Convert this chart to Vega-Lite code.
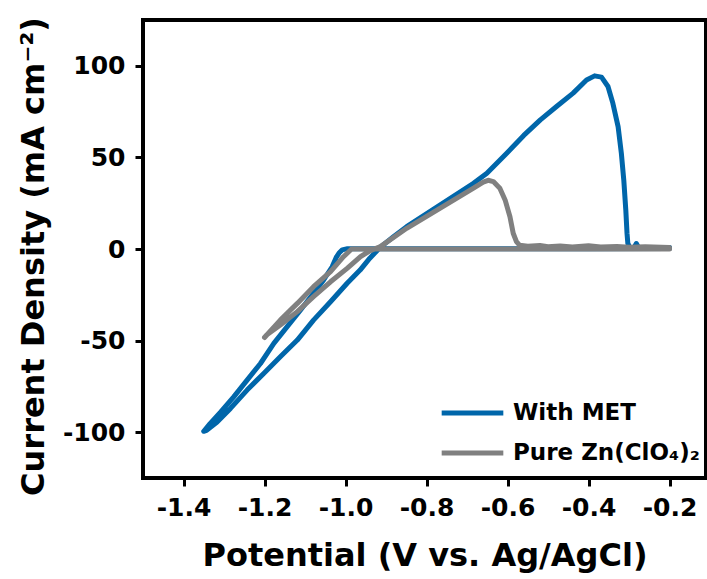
{
  "$schema": "https://vega.github.io/schema/vega-lite/v6.json",
  "width": 563,
  "height": 458,
  "autosize": "none",
  "padding": {"left": 143, "top": 20, "right": 1, "bottom": 101},
  "background": "white",
  "config": {
    "view": {"stroke": "black", "strokeWidth": 4},
    "font": "DejaVu Sans",
    "axis": {
      "grid": false,
      "domain": false,
      "tickColor": "black",
      "tickWidth": 3,
      "tickSize": 8,
      "labelFont": "DejaVu Sans",
      "labelFontWeight": "bold",
      "labelFontSize": 25,
      "labelColor": "black",
      "titleFont": "DejaVu Sans",
      "titleFontWeight": "bold",
      "titleFontSize": 32,
      "titleColor": "black"
    },
    "legend": {
      "orient": "none",
      "legendX": 296,
      "legendY": 377,
      "title": null,
      "symbolType": "stroke",
      "symbolSize": 3800,
      "symbolStrokeWidth": 5,
      "labelFont": "DejaVu Sans",
      "labelFontWeight": "bold",
      "labelFontSize": 23,
      "labelColor": "black",
      "labelOffset": 7,
      "clipHeight": 32,
      "rowPadding": 8,
      "labelLimit": 300
    }
  },
  "datasets": {
    "cv": [
      {"s": "With MET", "i": 1, "v": -0.2, "j": 0.3},
      {"s": "With MET", "i": 2, "v": -0.4, "j": 0.2},
      {"s": "With MET", "i": 3, "v": -0.6, "j": 0.1},
      {"s": "With MET", "i": 4, "v": -0.8, "j": 0.1},
      {"s": "With MET", "i": 5, "v": -0.95, "j": 0.2},
      {"s": "With MET", "i": 6, "v": -0.995, "j": 0.2},
      {"s": "With MET", "i": 7, "v": -1.008, "j": -0.5},
      {"s": "With MET", "i": 8, "v": -1.016, "j": -2.2},
      {"s": "With MET", "i": 9, "v": -1.023, "j": -4.6},
      {"s": "With MET", "i": 10, "v": -1.033, "j": -9.7},
      {"s": "With MET", "i": 11, "v": -1.054, "j": -16.9},
      {"s": "With MET", "i": 12, "v": -1.079, "j": -24.2},
      {"s": "With MET", "i": 13, "v": -1.111, "j": -33.3},
      {"s": "With MET", "i": 14, "v": -1.144, "j": -42.4},
      {"s": "With MET", "i": 15, "v": -1.177, "j": -51.5},
      {"s": "With MET", "i": 16, "v": -1.21, "j": -62.5},
      {"s": "With MET", "i": 17, "v": -1.243, "j": -71.6},
      {"s": "With MET", "i": 18, "v": -1.276, "j": -80.7},
      {"s": "With MET", "i": 19, "v": -1.308, "j": -88.9},
      {"s": "With MET", "i": 20, "v": -1.335, "j": -95.5},
      {"s": "With MET", "i": 21, "v": -1.35, "j": -99.5},
      {"s": "With MET", "i": 22, "v": -1.343, "j": -99.0},
      {"s": "With MET", "i": 23, "v": -1.317, "j": -94.4},
      {"s": "With MET", "i": 24, "v": -1.284, "j": -87.0},
      {"s": "With MET", "i": 25, "v": -1.243, "j": -77.0},
      {"s": "With MET", "i": 26, "v": -1.202, "j": -67.9},
      {"s": "With MET", "i": 27, "v": -1.161, "j": -58.8},
      {"s": "With MET", "i": 28, "v": -1.119, "j": -49.7},
      {"s": "With MET", "i": 29, "v": -1.079, "j": -38.8},
      {"s": "With MET", "i": 30, "v": -1.037, "j": -28.8},
      {"s": "With MET", "i": 31, "v": -0.996, "j": -18.7},
      {"s": "With MET", "i": 32, "v": -0.964, "j": -11.5},
      {"s": "With MET", "i": 33, "v": -0.94, "j": -5.0},
      {"s": "With MET", "i": 34, "v": -0.914, "j": 1.0},
      {"s": "With MET", "i": 35, "v": -0.88, "j": 7.0},
      {"s": "With MET", "i": 36, "v": -0.849, "j": 12.2},
      {"s": "With MET", "i": 37, "v": -0.767, "j": 24.0},
      {"s": "With MET", "i": 38, "v": -0.684, "j": 35.9},
      {"s": "With MET", "i": 39, "v": -0.651, "j": 41.4},
      {"s": "With MET", "i": 40, "v": -0.602, "j": 52.3},
      {"s": "With MET", "i": 41, "v": -0.56, "j": 62.0},
      {"s": "With MET", "i": 42, "v": -0.519, "j": 70.5},
      {"s": "With MET", "i": 43, "v": -0.479, "j": 77.8},
      {"s": "With MET", "i": 44, "v": -0.438, "j": 85.1},
      {"s": "With MET", "i": 45, "v": -0.405, "j": 92.3},
      {"s": "With MET", "i": 46, "v": -0.385, "j": 94.5},
      {"s": "With MET", "i": 47, "v": -0.368, "j": 93.8},
      {"s": "With MET", "i": 48, "v": -0.352, "j": 88.7},
      {"s": "With MET", "i": 49, "v": -0.34, "j": 79.6},
      {"s": "With MET", "i": 50, "v": -0.327, "j": 66.8},
      {"s": "With MET", "i": 51, "v": -0.319, "j": 52.3},
      {"s": "With MET", "i": 52, "v": -0.313, "j": 37.7},
      {"s": "With MET", "i": 53, "v": -0.308, "j": 21.3},
      {"s": "With MET", "i": 54, "v": -0.305, "j": 8.6},
      {"s": "With MET", "i": 55, "v": -0.303, "j": 3.1},
      {"s": "With MET", "i": 56, "v": -0.298, "j": 0.8},
      {"s": "With MET", "i": 57, "v": -0.287, "j": 1.0},
      {"s": "With MET", "i": 58, "v": -0.282, "j": 3.0},
      {"s": "With MET", "i": 59, "v": -0.277, "j": 1.0},
      {"s": "With MET", "i": 60, "v": -0.25, "j": 0.8},
      {"s": "With MET", "i": 61, "v": -0.2, "j": 0.8},
      {"s": "Pure Zn(ClO₄)₂", "i": 1, "v": -0.2, "j": 0.0},
      {"s": "Pure Zn(ClO₄)₂", "i": 2, "v": -0.5, "j": 0.0},
      {"s": "Pure Zn(ClO₄)₂", "i": 3, "v": -0.8, "j": 0.0},
      {"s": "Pure Zn(ClO₄)₂", "i": 4, "v": -0.95, "j": 0.0},
      {"s": "Pure Zn(ClO₄)₂", "i": 5, "v": -0.985, "j": 0.0},
      {"s": "Pure Zn(ClO₄)₂", "i": 6, "v": -1.005, "j": -4.2},
      {"s": "Pure Zn(ClO₄)₂", "i": 7, "v": -1.037, "j": -12.4},
      {"s": "Pure Zn(ClO₄)₂", "i": 8, "v": -1.079, "j": -20.6},
      {"s": "Pure Zn(ClO₄)₂", "i": 9, "v": -1.119, "j": -29.7},
      {"s": "Pure Zn(ClO₄)₂", "i": 10, "v": -1.161, "j": -38.8},
      {"s": "Pure Zn(ClO₄)₂", "i": 11, "v": -1.2, "j": -48.3},
      {"s": "Pure Zn(ClO₄)₂", "i": 12, "v": -1.195, "j": -47.0},
      {"s": "Pure Zn(ClO₄)₂", "i": 13, "v": -1.161, "j": -41.5},
      {"s": "Pure Zn(ClO₄)₂", "i": 14, "v": -1.119, "j": -34.2},
      {"s": "Pure Zn(ClO₄)₂", "i": 15, "v": -1.079, "j": -26.0},
      {"s": "Pure Zn(ClO₄)₂", "i": 16, "v": -1.037, "j": -17.9},
      {"s": "Pure Zn(ClO₄)₂", "i": 17, "v": -0.996, "j": -10.6},
      {"s": "Pure Zn(ClO₄)₂", "i": 18, "v": -0.963, "j": -4.2},
      {"s": "Pure Zn(ClO₄)₂", "i": 19, "v": -0.94, "j": -1.0},
      {"s": "Pure Zn(ClO₄)₂", "i": 20, "v": -0.914, "j": 1.3},
      {"s": "Pure Zn(ClO₄)₂", "i": 21, "v": -0.849, "j": 11.3},
      {"s": "Pure Zn(ClO₄)₂", "i": 22, "v": -0.767, "j": 22.2},
      {"s": "Pure Zn(ClO₄)₂", "i": 23, "v": -0.684, "j": 33.2},
      {"s": "Pure Zn(ClO₄)₂", "i": 24, "v": -0.66, "j": 36.5},
      {"s": "Pure Zn(ClO₄)₂", "i": 25, "v": -0.648, "j": 37.5},
      {"s": "Pure Zn(ClO₄)₂", "i": 26, "v": -0.635, "j": 36.8},
      {"s": "Pure Zn(ClO₄)₂", "i": 27, "v": -0.619, "j": 33.2},
      {"s": "Pure Zn(ClO₄)₂", "i": 28, "v": -0.606, "j": 26.8},
      {"s": "Pure Zn(ClO₄)₂", "i": 29, "v": -0.594, "j": 17.6},
      {"s": "Pure Zn(ClO₄)₂", "i": 30, "v": -0.586, "j": 8.6},
      {"s": "Pure Zn(ClO₄)₂", "i": 31, "v": -0.578, "j": 4.0},
      {"s": "Pure Zn(ClO₄)₂", "i": 32, "v": -0.57, "j": 2.0},
      {"s": "Pure Zn(ClO₄)₂", "i": 33, "v": -0.55, "j": 1.5},
      {"s": "Pure Zn(ClO₄)₂", "i": 34, "v": -0.52, "j": 1.9},
      {"s": "Pure Zn(ClO₄)₂", "i": 35, "v": -0.5, "j": 1.2},
      {"s": "Pure Zn(ClO₄)₂", "i": 36, "v": -0.47, "j": 1.7},
      {"s": "Pure Zn(ClO₄)₂", "i": 37, "v": -0.44, "j": 1.1},
      {"s": "Pure Zn(ClO₄)₂", "i": 38, "v": -0.4, "j": 1.8},
      {"s": "Pure Zn(ClO₄)₂", "i": 39, "v": -0.37, "j": 1.1},
      {"s": "Pure Zn(ClO₄)₂", "i": 40, "v": -0.33, "j": 1.4},
      {"s": "Pure Zn(ClO₄)₂", "i": 41, "v": -0.3, "j": 1.0},
      {"s": "Pure Zn(ClO₄)₂", "i": 42, "v": -0.26, "j": 1.2},
      {"s": "Pure Zn(ClO₄)₂", "i": 43, "v": -0.2, "j": 0.8}
    ]
  },
  "data": {"name": "cv"},
  "encoding": {
    "x": {
      "field": "v",
      "type": "quantitative",
      "scale": {"domain": [-1.5, -0.11], "nice": false, "zero": false},
      "axis": {"values": [-1.4, -1.2, -1.0, -0.8, -0.6, -0.4, -0.2], "labelExpr": "replace(format(datum.value, '.1f'), '−', '-')", "labelPadding": 9, "titlePadding": 20, "title": "Potential (V vs. Ag/AgCl)"}
    },
    "y": {
      "field": "j",
      "type": "quantitative",
      "scale": {"domain": [-125, 125], "nice": false, "zero": false},
      "axis": {"values": [-100, -50, 0, 50, 100], "labelExpr": "replace(format(datum.value, 'd'), '−', '-')", "labelPadding": 10, "titlePadding": 12, "titleY": 236, "title": "Current Density (mA cm⁻²)"}
    },
    "color": {
      "field": "s",
      "type": "nominal",
      "scale": {"domain": ["With MET", "Pure Zn(ClO₄)₂"], "range": ["#0066aa", "#808080"]}
    },
    "order": {"field": "i", "type": "quantitative"}
  },
  "layer": [
    {
      "transform": [{"filter": "datum.s === 'With MET'"}],
      "mark": {"type": "line", "strokeWidth": 5, "strokeCap": "round", "strokeJoin": "round"}
    },
    {
      "transform": [{"filter": "datum.s !== 'With MET'"}],
      "mark": {"type": "line", "strokeWidth": 5, "strokeCap": "round", "strokeJoin": "round"}
    }
  ]
}
